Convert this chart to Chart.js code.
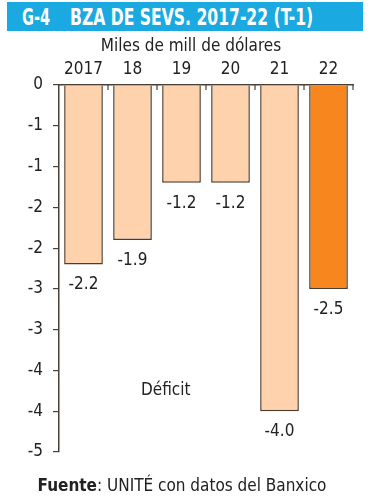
<!DOCTYPE html>
<html>
<head>
<meta charset="utf-8">
<script src="https://cdn.jsdelivr.net/npm/chart.js@4"></script>
<style>
  html, body { margin: 0; padding: 0; background: #fff; }
  body { width: 368px; height: 500px; position: relative; overflow: hidden;
         font-family: "DejaVu Sans Condensed", "Liberation Sans Narrow", Roboto, sans-serif; color: #222; }
  #banner { position: absolute; left: 7px; top: 2px; width: 356px; height: 29px; background: #1aa9e1;
            color: #fff; font-weight: bold; font-size: 23px; line-height: 31px; white-space: nowrap; overflow: hidden; }
  #banner span { position: absolute; top: 0; display: inline-block; transform-origin: left center; }
  #banner .code { left: 15px; }
  #banner .name { left: 63px; }
  #sub { position: absolute; left: 0; width: 382px; top: 35px; text-align: center; font-size: 17px; }
  #deficit { position: absolute; left: 141px; top: 379px; font-size: 17px; }
  #foot { position: absolute; left: 0; width: 364px; top: 475px; text-align: center; font-size: 17px; white-space: nowrap; }
  #wrap { position: absolute; left: 0; top: 0; width: 368px; height: 500px; }
</style>
</head>
<body>
<div id="wrap"><canvas id="chart"></canvas></div>
<div id="banner"><span class="code" data-w="28">G-4</span><span class="name" data-w="243">BZA DE SEVS. 2017-22 (T-1)</span></div>
<div id="sub">Miles de mill de dólares</div>
<div id="deficit">Déficit</div>
<div id="foot"><b>Fuente</b>: UNITÉ con datos del Banxico</div>
<script>
const years = ['2017', '18', '19', '20', '21', '22'];
const balance = [-2.2, -1.9, -1.2, -1.2, -4.0, -2.5];
const barColors = ['#fdd2ac', '#fdd2ac', '#fdd2ac', '#fdd2ac', '#fdd2ac', '#f7861f'];
const yMin = -4.5;
const yMax = 0;
const yStep = 0.5;

const FONT = '"DejaVu Sans Condensed", "Liberation Sans Narrow", Roboto, sans-serif';
const ink = '#222';
const axisColor = '#4a4038';

// squeeze the banner text into the width it has in the print version
document.querySelectorAll('#banner span').forEach(el => {
  const target = Number(el.dataset.w);
  el.style.transform = 'scaleX(' + (target / el.offsetWidth) + ')';
});

// value labels under each bar + small tick marks under the zero line
const barLabels = {
  id: 'barLabels',
  afterDatasetsDraw(chart) {
    const ctx = chart.ctx;
    const meta = chart.getDatasetMeta(0);
    ctx.save();
    ctx.fillStyle = ink;
    ctx.font = '17px ' + FONT;
    ctx.textAlign = 'center';
    ctx.textBaseline = 'top';
    meta.data.forEach((bar, i) => {
      ctx.fillText(balance[i].toFixed(1), bar.x, bar.y + 12);
    });
    // category boundary ticks
    const x = chart.scales.x;
    const half = (x.getPixelForValue(1) - x.getPixelForValue(0)) / 2;
    ctx.strokeStyle = axisColor;
    ctx.lineWidth = 1.2;
    for (let i = 1; i <= years.length; i++) {
      const px = x.getPixelForValue(i) - half;
      ctx.beginPath();
      ctx.moveTo(px, chart.chartArea.top);
      ctx.lineTo(px, chart.chartArea.top + 5);
      ctx.stroke();
    }
    ctx.restore();
  }
};

new Chart(document.getElementById('chart'), {
  type: 'bar',
  data: {
    labels: years,
    datasets: [{
      data: balance,
      backgroundColor: barColors,
      borderColor: '#4d3d30',
      borderWidth: 1.5,
      categoryPercentage: 1,
      barPercentage: 0.79
    }]
  },
  options: {
    responsive: true,
    maintainAspectRatio: false,
    animation: false,
    layout: { padding: { top: 0, left: 0, right: 15, bottom: 48 } },
    plugins: { legend: { display: false }, tooltip: { enabled: false } },
    scales: {
      x: {
        position: 'top',
        grid: { display: false },
        border: { display: true, color: axisColor, width: 1.5 },
        ticks: { color: ink, font: { family: FONT, size: 17 }, padding: -3, maxRotation: 0 },
        afterFit(scale) { scale.height = 85; }
      },
      y: {
        min: yMin,
        max: yMax,
        grid: { display: true, drawOnChartArea: false, tickLength: 6, color: axisColor, lineWidth: 1.2 },
        border: { display: true, color: axisColor, width: 1.5 },
        ticks: {
          stepSize: yStep,
          color: ink,
          font: { family: FONT, size: 17 },
          padding: 10,
          callback: (v) => String(v < 0 ? -Math.round(-v) : Math.round(v))
        },
        afterFit(scale) { scale.width = 59; }
      }
    }
  },
  plugins: [barLabels]
});
</script>
</body>
</html>
